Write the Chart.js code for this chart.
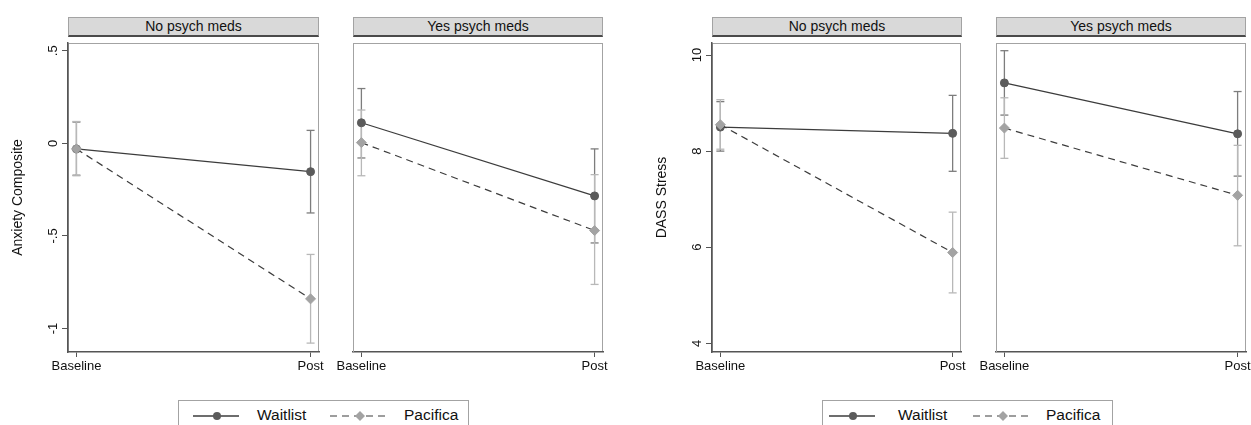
<!DOCTYPE html>
<html>
<head>
<meta charset="utf-8">
<script src="https://cdn.jsdelivr.net/npm/chart.js@4.4.1/dist/chart.umd.min.js"></script>
<style>
    body { margin: 0; background: #fff; width: 1251px; height: 425px; overflow: hidden; position: relative;
           font-family: Helvetica, "Liberation Sans", Arial, sans-serif; }
    canvas { position: absolute; }
    .strip { position: absolute; top: 17px; height: 17px; background: #d9d9d9; box-sizing: content-box;
             border: 1px solid #a3a3a3; border-bottom: 2px solid #4a4a4a;
             font-size: 14px; line-height: 17px; text-align: center; color: #111; }
    .legend { position: absolute; top: 400px; width: 289px; height: 34px; border: 1px solid #a3a3a3; }
    .legend svg { position: absolute; top: 6px; }
    .legend span { position: absolute; top: 5px; font-size: 15.5px; color: #111; }
</style>
</head>
<body>
<canvas id="c1" width="330" height="343" style="left:0px;top:37px"></canvas>
<canvas id="c2" width="290" height="343" style="left:323px;top:37px"></canvas>
<canvas id="c3" width="328" height="343" style="left:644px;top:37px"></canvas>
<canvas id="c4" width="290" height="343" style="left:966px;top:37px"></canvas>

<div class="strip" style="left:68px;width:249px">No psych meds</div>
<div class="strip" style="left:353px;width:248px">Yes psych meds</div>
<div class="strip" style="left:712px;width:248px">No psych meds</div>
<div class="strip" style="left:996px;width:248px">Yes psych meds</div>

<div class="legend" id="leg1" style="left:178px"></div>
<div class="legend" id="leg2" style="left:822px"></div>

<script>
// categories
const timepoints = ['Baseline', 'Post'];
const groups = ['Waitlist', 'Pacifica'];
const medPanels = ['No psych meds', 'Yes psych meds'];

// Anxiety Composite: rows = No / Yes psych meds, cols = Baseline / Post
const anxWaitMean = [[-0.03, -0.153], [0.111, -0.284]];
const anxWaitLo   = [[-0.172, -0.376], [-0.079, -0.538]];
const anxWaitHi   = [[0.115, 0.070], [0.296, -0.030]];
const anxPacMean  = [[-0.03, -0.840], [0.004, -0.471]];
const anxPacLo    = [[-0.175, -1.079], [-0.175, -0.762]];
const anxPacHi    = [[0.118, -0.600], [0.180, -0.169]];
const anxTicks = [0.5, 0, -0.5, -1];
const anxTickLabels = ['.5', '0', '-.5', '-1'];

// DASS Stress
const dassWaitMean = [[8.50, 8.37], [9.42, 8.36]];
const dassWaitLo   = [[8.00, 7.58], [8.75, 7.48]];
const dassWaitHi   = [[9.03, 9.16], [10.09, 9.24]];
const dassPacMean  = [[8.55, 5.89], [8.48, 7.08]];
const dassPacLo    = [[8.04, 5.05], [7.85, 6.03]];
const dassPacHi    = [[9.07, 6.73], [9.11, 8.12]];
const dassTicks = [10, 8, 6, 4];
const dassTickLabels = ['10', '8', '6', '4'];

const FONT = 'Helvetica, "Liberation Sans", Arial, sans-serif';
const WAIT_PT = '#5b5b5b', PAC_PT = '#a3a3a3';
const WAIT_ERR = '#7d7d7d', PAC_ERR = '#b8b8b8';
const LINE = '#3c3c3c';

// frame around the plot region + rotated y tick labels (Stata style)
const panelPlugin = {
    id: 'panel',
    beforeDraw(chart) {
        const a = chart.chartArea, ctx = chart.ctx;
        ctx.save();
        ctx.strokeStyle = '#a3a3a3';
        ctx.lineWidth = 1;
        ctx.strokeRect(a.left + 0.5, a.top + 0.5, a.right - a.left - 1, a.bottom - a.top - 1);
        ctx.restore();
    },
    afterDraw(chart, args, opts) {
        if (!opts.labels) return;
        const ctx = chart.ctx, y = chart.scales.y;
        ctx.save();
        ctx.font = '13px ' + FONT;
        ctx.fillStyle = '#111';
        ctx.textAlign = 'center';
        ctx.textBaseline = 'middle';
        opts.values.forEach((v, i) => {
            ctx.save();
            ctx.translate(chart.chartArea.left - 15, y.getPixelForValue(v));
            ctx.rotate(-Math.PI / 2);
            ctx.fillText(opts.labels[i], 0, 0);
            ctx.restore();
        });
        ctx.restore();
    }
};

function errorSets(lo, hi, color) {
    return timepoints.map((t, i) => ({
        data: [{ x: i, y: lo[i] }, { x: i, y: hi[i] }],
        showLine: true,
        borderColor: color,
        borderWidth: 1.3,
        pointStyle: 'line',
        pointRadius: 4,
        pointBorderColor: color,
        pointBorderWidth: 1.3,
        order: 2
    }));
}

function meanSet(label, mean, dashed) {
    return {
        label: label,
        data: timepoints.map((t, i) => ({ x: i, y: mean[i] })),
        showLine: true,
        borderColor: LINE,
        borderWidth: 1.2,
        borderDash: dashed ? [7, 5] : [],
        pointStyle: dashed ? 'rectRot' : 'circle',
        pointRadius: dashed ? 5 : 4,
        pointBackgroundColor: dashed ? PAC_PT : WAIT_PT,
        pointBorderColor: dashed ? PAC_PT : WAIT_PT,
        pointBorderWidth: 1,
        order: dashed ? 0 : 1
    };
}

function makePanel(id, p, m, yRange, ticks, tickLabels, title) {
    const [waitMean, waitLo, waitHi, pacMean, pacLo, pacHi] = m;
    const first = !!title;
    new Chart(document.getElementById(id), {
        type: 'scatter',
        data: {
            datasets: [
                meanSet(groups[1], pacMean[p], true),
                meanSet(groups[0], waitMean[p], false),
                ...errorSets(pacLo[p], pacHi[p], PAC_ERR),
                ...errorSets(waitLo[p], waitHi[p], WAIT_ERR)
            ]
        },
        options: {
            responsive: false,
            animation: false,
            devicePixelRatio: 1,
            layout: { padding: { left: 0, right: first ? 11 : 10, top: 0, bottom: 0 } },
            plugins: {
                legend: { display: false },
                tooltip: { enabled: false },
                panel: first ? { labels: tickLabels, values: ticks } : {}
            },
            scales: {
                x: {
                    type: 'linear',
                    min: -0.036, max: 1.036,
                    afterBuildTicks: s => { s.ticks = timepoints.map((t, i) => ({ value: i })); },
                    afterFit: s => { s.height = 28; },
                    ticks: {
                        callback: v => timepoints[v],
                        font: { size: 13, family: FONT },
                        color: '#111',
                        padding: 2,
                        maxRotation: 0,
                        autoSkip: false
                    },
                    grid: { drawOnChartArea: false, tickLength: 5, tickColor: '#555', tickWidth: 1 },
                    border: { color: '#555', width: 1.5 }
                },
                y: {
                    min: yRange[0], max: yRange[1],
                    afterBuildTicks: s => { s.ticks = ticks.map(v => ({ value: v })); },
                    afterFit: s => { s.width = first ? 68 : 30; },
                    ticks: { display: false },
                    grid: { drawOnChartArea: false, display: true, drawTicks: first, tickLength: 6, tickColor: '#555' },
                    border: { color: first ? '#555' : '#a3a3a3', width: first ? 1.5 : 1 },
                    title: {
                        display: first,
                        text: title || '',
                        font: { size: 14, family: FONT },
                        color: '#111',
                        padding: { top: 10, bottom: 0 }
                    }
                }
            }
        },
        plugins: [panelPlugin]
    });
}

const anxAll = [anxWaitMean, anxWaitLo, anxWaitHi, anxPacMean, anxPacLo, anxPacHi];
const dassAll = [dassWaitMean, dassWaitLo, dassWaitHi, dassPacMean, dassPacLo, dassPacHi];

makePanel('c1', 0, anxAll, [-1.127, 0.542], anxTicks, anxTickLabels, 'Anxiety Composite');
makePanel('c2', 1, anxAll, [-1.127, 0.542], anxTicks, anxTickLabels, null);
makePanel('c3', 0, dassAll, [3.82, 10.25], dassTicks, dassTickLabels, 'DASS Stress');
makePanel('c4', 1, dassAll, [3.82, 10.25], dassTicks, dassTickLabels, null);

// legend boxes under each figure
function buildLegend(id, offs) {
    const el = document.getElementById(id);
    el.innerHTML =
        `<svg width="50" height="18" style="left:${offs[0]}px"><line x1="0" y1="9" x2="46" y2="9" stroke="${LINE}" stroke-width="1.3"/>` +
        `<circle cx="24" cy="9" r="4" fill="${WAIT_PT}"/></svg>` +
        `<span style="left:${offs[1]}px">${groups[0]}</span>` +
        `<svg width="62" height="18" style="left:${offs[2]}px"><line x1="0" y1="9" x2="60" y2="9" stroke="${LINE}" stroke-width="1.2" stroke-dasharray="7 5"/>` +
        `<path d="M30 4 L35 9 L30 14 L25 9 Z" fill="${PAC_PT}"/></svg>` +
        `<span style="left:${offs[3]}px">${groups[1]}</span>`;
}
buildLegend('leg1', [14, 78, 151, 225]);
buildLegend('leg2', [6, 75, 150, 223]);
</script>
</body>
</html>
